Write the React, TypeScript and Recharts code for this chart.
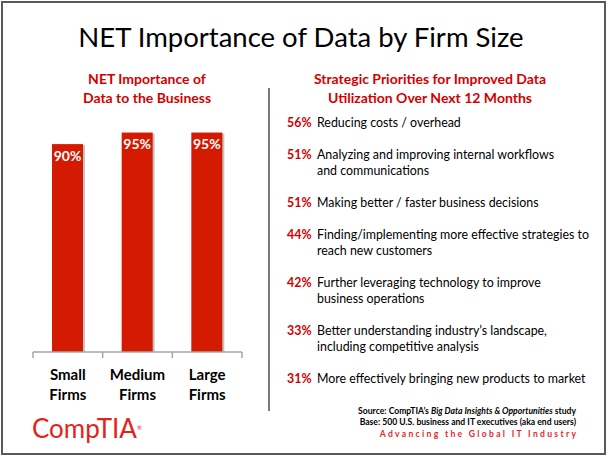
import React from 'react';
import { BarChart, Bar, XAxis, YAxis, LabelList } from 'recharts';

const firmSizes = ['Small Firms', 'Medium Firms', 'Large Firms'];
const importance = [90, 95, 95];

const priorityPcts = [56, 51, 51, 44, 42, 33, 31];
const priorityLabels = [
  ['Reducing costs / overhead'],
  ['Analyzing and improving internal workflows', 'and communications'],
  ['Making better / faster business decisions'],
  ['Finding/implementing more effective strategies to', 'reach new customers'],
  ['Further leveraging technology to improve', 'business operations'],
  ['Better understanding industry\u2019s landscape,', 'including competitive analysis'],
  ['More effectively bringing new products to market'],
];

const barData = firmSizes.map((name, i) => ({ name, value: importance[i] }));

const RED = '#d41a00';
const FONT = 'Lato, "Noto Sans", sans-serif';

// bar with a thin grey shadow on the right side
const ShadowBar = (props: any) => {
  const { x, y, width, height } = props;
  return (
    <g>
      <rect x={x + 2} y={y + 1} width={width} height={height - 1} fill="#c4c4c4" />
      <rect x={x} y={y} width={width} height={height} fill={RED} />
    </g>
  );
};

const FirmTick = (props: any) => {
  const { x, y, payload, index } = props;
  const half = payload.offset || 209 / 6;
  const words = String(payload.value).split(' ');
  return (
    <g>
      <line x1={x - half} y1={y} x2={x - half} y2={y + 6} stroke="#a6a6a6" strokeWidth={1.5} />
      {index === firmSizes.length - 1 && (
        <line x1={x + half} y1={y} x2={x + half} y2={y + 6} stroke="#a6a6a6" strokeWidth={1.5} />
      )}
      {words.map((w, i) => (
        <text key={i} x={x} y={y + 22 + i * 20} textAnchor="middle" dominantBaseline="central"
          fontFamily={FONT} fontWeight={700} fontSize={15} fill="#000">
          {w}
        </text>
      ))}
    </g>
  );
};

export default function App() {
  return (
    <div style={{ position: 'relative', width: 609, height: 457, background: '#fff', fontFamily: FONT, overflow: 'hidden' }}>
      <style>{'body{margin:0}'}</style>
      <div style={{ position: 'absolute', left: 1, top: 1, width: 605, height: 454, border: '2px solid #595959', boxSizing: 'border-box' }} />

      <div style={{ position: 'absolute', left: 0, top: 21, width: 602, textAlign: 'center', fontSize: 27.5, lineHeight: '32px', color: '#000' }}>
        NET Importance of Data by Firm Size
      </div>

      <div style={{ position: 'absolute', left: 47, top: 69, width: 200, textAlign: 'center', fontSize: 14, fontWeight: 700, lineHeight: '19px', color: '#d40000' }}>
        NET Importance of<br />Data to the Business
      </div>
      <div style={{ position: 'absolute', left: 290, top: 69, width: 280, textAlign: 'center', fontSize: 14, fontWeight: 700, lineHeight: '19px', color: '#d40000' }}>
        Strategic Priorities for Improved Data<br />Utilization Over Next 12 Months
      </div>

      <div style={{ position: 'absolute', left: 268, top: 88, width: 2, height: 323, background: '#7a7a7a' }} />

      <div style={{ position: 'absolute', left: 0, top: 0 }}>
        <BarChart width={262} height={420} data={barData} margin={{ top: 121, left: 33, right: 20, bottom: 0 }} barSize={31}>
          <YAxis hide domain={[0, 100]} />
          <XAxis dataKey="name" height={68} axisLine={{ stroke: '#a6a6a6', strokeWidth: 1.5 }} tickLine={false}
            tickSize={0} tickMargin={0} interval={0} tick={<FirmTick />} />
          <Bar dataKey="value" shape={<ShadowBar />} isAnimationActive={false}>
            <LabelList dataKey="value" position="insideTop" offset={7} formatter={(v: any) => `${v}%`}
              fill="#fff" fontFamily={FONT} fontWeight={700} fontSize={14} />
          </Bar>
        </BarChart>
      </div>

      <div style={{ position: 'absolute', left: 287, top: 115, display: 'flex', flexDirection: 'column', gap: 16 }}>
        {priorityPcts.map((p, i) => (
          <div key={i} style={{ display: 'flex', fontSize: 12.4, lineHeight: '16px' }}>
            <div style={{ width: 30, color: '#d40000', fontWeight: 700 }}>{p}%</div>
            <div style={{ color: '#000' }}>
              {priorityLabels[i].map((l, j) => <div key={j}>{l}</div>)}
            </div>
          </div>
        ))}
      </div>

      <div style={{ position: 'absolute', right: 33, top: 406, textAlign: 'right', fontSize: 8.6, fontWeight: 700, lineHeight: '11px', color: '#000' }}>
        <div>Source: CompTIA’s <i>Big Data Insights &amp; Opportunities</i> study</div>
        <div>Base: 500 U.S. business and IT executives (aka end users)</div>
        <div style={{ color: '#e8262d', letterSpacing: 2.3, marginTop: 1, marginRight: -2.3 }}>Advancing the Global IT Industry</div>
      </div>

      <div style={{ position: 'absolute', left: 32, top: 413, fontSize: 26, lineHeight: '30px', color: '#e2231a', fontWeight: 400 }}>
        CompTIA<span style={{ fontSize: 6, verticalAlign: 'top' }}>®</span>
      </div>
    </div>
  );
}
